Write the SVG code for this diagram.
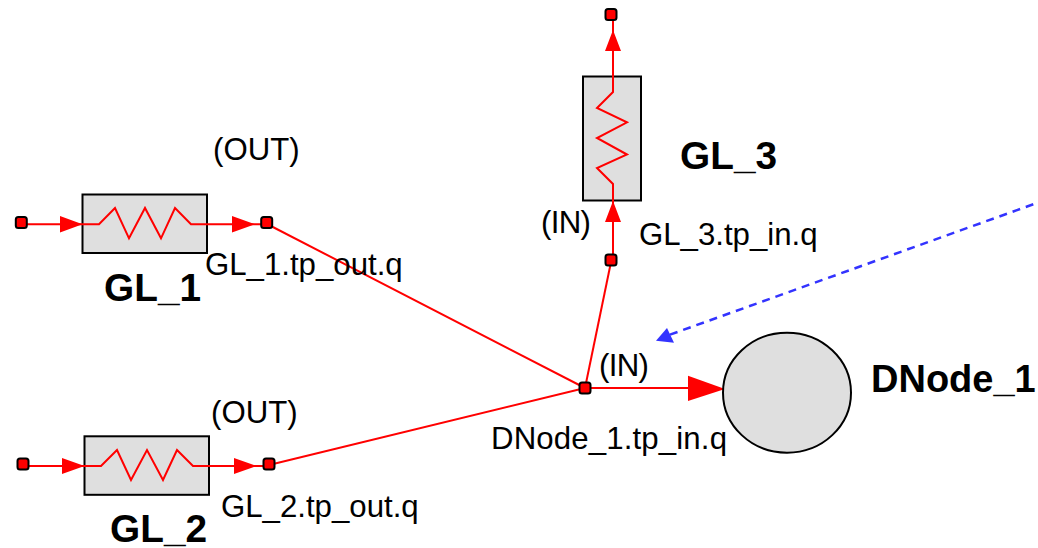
<svg xmlns="http://www.w3.org/2000/svg" width="1038" height="548" viewBox="0 0 1038 548">
<style>
.box{fill:#dfdfdf;stroke:#000;stroke-width:2}
.w{fill:none;stroke:#f00;stroke-width:2;stroke-linejoin:miter}
.a{fill:#f00;stroke:none}
.p{fill:#f00;stroke:#000;stroke-width:2}
text{font-family:"Liberation Sans",Arial,sans-serif;fill:#000}
.l{font-size:31.2px}
.n{font-size:38.8px;font-weight:bold}
.d{font-size:38px;font-weight:bold}
</style>
<defs>
<rect id="port" class="p" x="-5.5" y="-5.5" width="11" height="11" rx="2.5"/>
</defs>
<rect width="1038" height="548" fill="#fff"/>
<g id="connectors">
<path class="w" d="M267 224 L585 388"/>
<path class="w" d="M269 465 L585 388"/>
<path class="w" d="M611 262 L585 388"/>
<path class="w" d="M585 388 H700"/>
<path d="M1033.3 204.3 L669 335" fill="none" stroke="#3333ff" stroke-width="2.5" stroke-dasharray="8 6"/>
<path d="M656 340.7 L667 328 L674 342.7Z" fill="#3333ff"/>
<path class="a" d="M688 375.7 L725 389 L688 401Z"/>
</g>
<g id="GL_1">
<rect class="box" x="82.5" y="194.5" width="124.5" height="58.5"/>
<path class="w" d="M21 224.3 H99 L115 208 L129 238.3 L145 208 L161 238.3 L175 208 L191 224.3 H267"/>
<path class="a" d="M60 216 L82.5 224.3 L60 232.5Z M232 216 L255 224.3 L232 232.5Z"/>
<use href="#port" x="21.3" y="222.5"/>
<use href="#port" x="266.7" y="222.5"/>
<text class="l" x="213" y="160">(OUT)</text>
<text class="l" x="205" y="275">GL_1.tp_out.q</text>
<text class="n" x="104" y="301">GL_1</text>
</g>
<g id="GL_2">
<rect class="box" x="84.5" y="436.3" width="124.5" height="58.5"/>
<path class="w" d="M23 466 H101 L117 450 L131 480 L147 450 L163 480 L177 450 L193 466 H269"/>
<path class="a" d="M62 458 L84.5 466 L62 474Z M234 458 L257 466 L234 474Z"/>
<use href="#port" x="23" y="464"/>
<use href="#port" x="269" y="464"/>
<text class="l" x="211" y="423">(OUT)</text>
<text class="l" x="221" y="517">GL_2.tp_out.q</text>
<text class="n" x="110" y="542">GL_2</text>
</g>
<g id="GL_3">
<rect class="box" x="583" y="76.5" width="58" height="124"/>
<path class="w" d="M613 260 V184 L597 168 L627 154.5 L597 138 L627 122.3 L597 108 L613 92 V16"/>
<path class="a" d="M613 201 L605 222 H621Z M613 30 L605 51 H621Z"/>
<use href="#port" x="611" y="14.5"/>
<use href="#port" x="611" y="260"/>
<text class="l" x="541" y="233" textLength="50" lengthAdjust="spacing">(IN)</text>
<text class="l" x="639" y="245">GL_3.tp_in.q</text>
<text class="n" x="680" y="169">GL_3</text>
</g>
<g id="DNode_1">
<ellipse class="box" cx="787" cy="392.7" rx="64" ry="60"/>
<use href="#port" x="585" y="388"/>
<text class="l" x="599" y="376" textLength="50" lengthAdjust="spacing">(IN)</text>
<text class="l" x="491" y="449" textLength="236" lengthAdjust="spacing">DNode_1.tp_in.q</text>
<text class="d" x="871" y="392">DNode_1</text>
</g>
</svg>
